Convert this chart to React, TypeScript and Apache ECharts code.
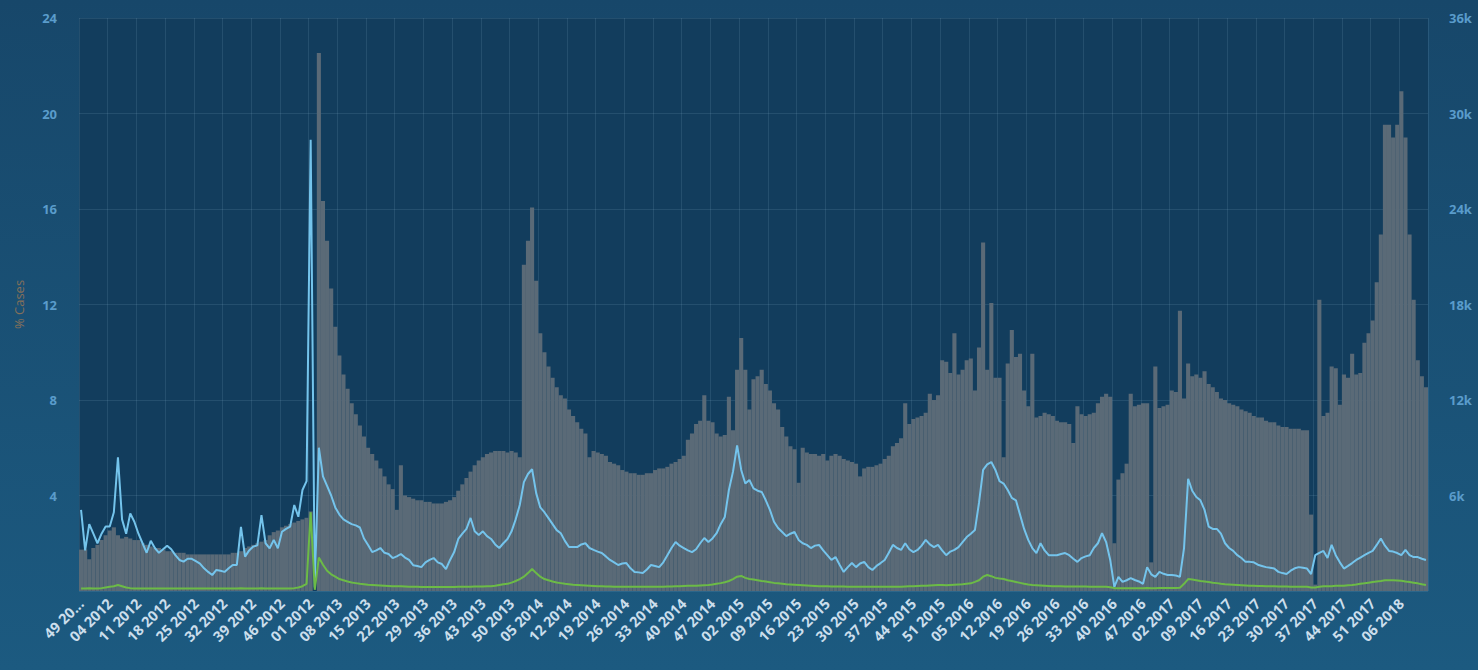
import React, { useEffect, useRef } from "react";
import * as echarts from "echarts";

// ---- week categories (ISO weeks, labelled "WW YYYY" with the year of the week's Monday) ----
const START_YEAR = 2011;
const START_WEEK = 49;
const WEEK_COUNT = 329;
const WEEKS_IN_YEAR: Record<number, number> = {
  2011: 52, 2012: 52, 2013: 52, 2014: 52, 2015: 53, 2016: 52, 2017: 52, 2018: 52,
};

function weekStartYear(year: number, week: number): number {
  const jan4 = new Date(Date.UTC(year, 0, 4));
  const dow = (jan4.getUTCDay() + 6) % 7;
  const monday = new Date(jan4.getTime() - dow * 86400000 + (week - 1) * 7 * 86400000);
  return monday.getUTCFullYear();
}

const categories: string[] = [];
{
  let y = START_YEAR;
  let w = START_WEEK;
  for (let k = 0; k < WEEK_COUNT; k++) {
    categories.push(`${String(w).padStart(2, "0")} ${weekStartYear(y, w)}`);
    w++;
    if (w > WEEKS_IN_YEAR[y]) { w = 1; y++; }
  }
}

// ---- gray bars: number of cases (thousands, right axis) ----
const casesK = [
  2.6,2.6,2.0,2.7,2.9,3.2,3.5,3.8,4.0,3.5,
  3.3,3.4,3.3,3.2,3.2,3.0,2.9,2.8,2.7,2.7,
  2.6,2.5,2.5,2.4,2.4,2.4,2.3,2.3,2.3,2.3,
  2.3,2.3,2.3,2.3,2.3,2.3,2.3,2.4,2.4,2.5,
  2.7,2.8,2.9,3.0,3.1,3.2,3.5,3.7,3.8,4.0,
  4.1,4.2,4.3,4.4,4.5,4.6,5.0,0,33.8,24.5,
  22.0,19.0,16.6,14.8,13.6,12.7,11.8,11.1,10.4,9.7,
  9.0,8.6,8.2,7.7,7.2,6.7,6.4,5.1,7.9,6.0,
  5.9,5.8,5.7,5.7,5.6,5.6,5.5,5.5,5.5,5.6,
  5.7,5.9,6.3,6.7,7.1,7.5,7.9,8.2,8.4,8.6,
  8.7,8.8,8.8,8.8,8.7,8.8,8.7,8.4,20.5,22.0,
  24.1,19.5,16.2,15.0,14.1,13.4,12.8,12.3,12.1,11.4,
  11.0,10.6,10.2,9.9,8.4,8.8,8.7,8.6,8.5,8.1,
  8.0,7.9,7.6,7.5,7.4,7.4,7.3,7.3,7.4,7.4,
  7.6,7.7,7.7,7.8,8.0,8.1,8.3,8.5,9.5,9.9,
  10.5,10.7,12.3,10.7,10.6,9.9,9.7,9.8,12.2,10.1,
  13.9,15.9,13.9,11.4,13.3,13.5,13.9,13.0,12.6,11.8,
  11.4,10.3,9.7,9.1,8.9,6.8,9.0,8.7,8.6,8.6,
  8.5,8.6,8.2,8.5,8.6,8.5,8.3,8.2,8.1,8.0,
  7.2,7.7,7.8,7.8,7.9,8.0,8.3,8.5,9.1,9.3,
  9.6,11.8,10.5,10.8,10.9,11.0,11.2,12.4,12.0,12.3,
  14.5,14.4,13.7,16.2,13.6,13.9,14.5,14.6,12.6,15.3,
  21.9,13.9,18.1,13.4,13.4,8.4,14.3,16.4,14.7,14.9,
  12.6,11.6,14.9,10.9,11.0,11.2,11.1,11.0,10.7,10.6,
  10.6,10.5,9.3,11.6,11.1,11.0,11.1,11.2,11.8,12.2,
  12.4,12.2,3.0,7.0,7.4,8.0,12.4,11.6,11.7,11.8,
  11.8,1.8,14.1,11.5,11.6,11.7,12.6,12.5,17.6,12.1,
  14.3,13.5,13.6,13.4,13.8,13.0,12.8,12.5,12.1,12.0,
  11.8,11.7,11.6,11.4,11.3,11.2,11.0,10.9,10.9,10.7,
  10.6,10.6,10.4,10.3,10.3,10.2,10.2,10.2,10.1,10.1,
  4.8,0.4,18.3,11.0,11.2,14.1,14.0,11.7,13.6,13.4,
  14.9,13.6,13.7,15.6,16.2,17.0,19.4,22.4,29.3,29.3,
  28.5,29.3,31.4,28.5,22.4,18.3,14.5,13.5,12.8,
];

// ---- light-blue line: % cases (left axis) ----
const pctBlue = [
  3.4,1.7,2.8,2.4,2.0,2.4,2.7,2.7,3.3,5.6,
  3.0,2.4,3.25,2.9,2.4,2.0,1.6,2.1,1.8,1.6,
  1.75,1.9,1.75,1.5,1.3,1.23,1.35,1.35,1.25,1.15,
  0.95,0.8,0.67,0.88,0.85,0.8,0.95,1.09,1.09,2.69,
  1.44,1.7,1.86,1.91,3.18,2.0,1.79,2.14,1.79,2.48,
  2.6,2.7,3.6,3.11,4.23,4.6,18.9,0.15,6.0,4.8,
  4.4,4.0,3.5,3.2,3.0,2.9,2.8,2.75,2.66,2.2,
  1.93,1.63,1.7,1.8,1.6,1.55,1.38,1.45,1.55,1.4,
  1.3,1.08,1.05,1.0,1.2,1.3,1.38,1.2,1.13,0.92,
  1.3,1.63,2.18,2.4,2.6,3.06,2.5,2.35,2.5,2.3,
  2.18,1.95,1.8,2.0,2.18,2.5,3.0,3.6,4.56,4.9,
  5.1,4.1,3.5,3.3,3.05,2.8,2.55,2.42,2.1,1.84,
  1.84,1.84,1.95,2.0,1.8,1.72,1.65,1.59,1.45,1.3,
  1.2,1.09,1.15,1.17,0.95,0.8,0.78,0.75,0.9,1.09,
  1.05,1.0,1.2,1.5,1.8,2.05,1.9,1.8,1.7,1.63,
  1.75,2.0,2.22,2.05,2.2,2.42,2.8,3.1,4.23,5.0,
  6.1,5.07,4.5,4.65,4.3,4.2,4.15,3.8,3.4,2.9,
  2.64,2.47,2.3,2.4,2.47,2.14,2.0,1.93,1.8,1.9,
  1.93,1.7,1.5,1.3,1.42,1.1,0.8,1.0,1.17,1.0,
  1.15,1.22,1.0,0.88,1.05,1.17,1.3,1.6,1.93,1.8,
  1.72,2.0,1.75,1.63,1.72,1.9,2.14,1.95,1.84,1.93,
  1.7,1.5,1.65,1.72,1.84,2.05,2.26,2.4,2.55,3.7,
  5.07,5.3,5.4,5.07,4.6,4.5,4.23,3.9,3.8,3.2,
  2.6,2.14,1.8,1.59,2.0,1.7,1.5,1.5,1.5,1.55,
  1.59,1.5,1.35,1.22,1.38,1.45,1.5,1.8,2.0,2.42,
  2.05,1.3,0.17,0.59,0.38,0.45,0.54,0.46,0.4,0.3,
  1.0,0.7,0.59,0.8,0.72,0.67,0.67,0.65,0.59,1.8,
  4.7,4.2,3.94,3.8,3.4,2.7,2.6,2.6,2.4,2.0,
  1.8,1.68,1.5,1.38,1.22,1.22,1.2,1.1,1.05,1.0,
  0.97,0.94,0.8,0.75,0.71,0.85,0.95,1.0,0.97,0.94,
  0.71,1.5,1.6,1.68,1.38,1.93,1.5,1.2,0.94,1.05,
  1.17,1.3,1.4,1.5,1.6,1.68,1.93,2.2,1.9,1.68,
  1.65,1.59,1.5,1.72,1.5,1.42,1.42,1.35,1.3,
];

// ---- green line: % cases (left axis) ----
const pctGreen = [
  0.10,0.10,0.12,0.10,0.10,0.12,0.15,0.18,0.20,0.25,
  0.20,0.15,0.12,0.10,0.10,0.10,0.10,0.10,0.10,0.10,
  0.10,0.10,0.10,0.10,0.10,0.10,0.10,0.10,0.10,0.10,
  0.10,0.10,0.10,0.10,0.10,0.10,0.10,0.10,0.10,0.12,
  0.10,0.10,0.10,0.10,0.12,0.10,0.10,0.10,0.10,0.10,
  0.10,0.10,0.12,0.15,0.20,0.30,3.30,0.05,1.40,1.10,
  0.85,0.70,0.60,0.50,0.45,0.40,0.36,0.33,0.30,0.28,
  0.26,0.25,0.24,0.23,0.22,0.21,0.20,0.20,0.20,0.19,
  0.18,0.18,0.18,0.17,0.17,0.17,0.17,0.17,0.17,0.17,
  0.17,0.17,0.18,0.18,0.18,0.18,0.19,0.19,0.19,0.20,
  0.20,0.22,0.25,0.28,0.30,0.35,0.42,0.50,0.60,0.75,
  0.92,0.75,0.60,0.50,0.45,0.40,0.36,0.33,0.30,0.28,
  0.26,0.25,0.24,0.23,0.22,0.21,0.20,0.20,0.19,0.19,
  0.18,0.18,0.18,0.18,0.18,0.18,0.18,0.18,0.18,0.18,
  0.18,0.18,0.18,0.19,0.19,0.20,0.20,0.21,0.22,0.22,
  0.22,0.23,0.24,0.25,0.27,0.30,0.33,0.37,0.42,0.50,
  0.60,0.63,0.55,0.50,0.48,0.45,0.42,0.40,0.37,0.34,
  0.32,0.30,0.28,0.27,0.26,0.25,0.24,0.23,0.22,0.21,
  0.20,0.20,0.20,0.19,0.19,0.19,0.19,0.18,0.18,0.18,
  0.18,0.18,0.18,0.18,0.18,0.18,0.18,0.18,0.18,0.18,
  0.18,0.19,0.20,0.20,0.21,0.22,0.22,0.23,0.24,0.25,
  0.25,0.24,0.25,0.26,0.27,0.28,0.30,0.32,0.38,0.45,
  0.60,0.67,0.62,0.55,0.52,0.50,0.45,0.42,0.38,0.34,
  0.30,0.27,0.25,0.24,0.23,0.22,0.21,0.20,0.20,0.20,
  0.19,0.19,0.19,0.19,0.19,0.19,0.18,0.18,0.18,0.18,
  0.18,0.16,0.12,0.12,0.12,0.12,0.12,0.12,0.12,0.12,
  0.13,0.12,0.12,0.13,0.13,0.13,0.13,0.13,0.14,0.30,
  0.50,0.48,0.45,0.42,0.40,0.38,0.35,0.33,0.30,0.28,
  0.27,0.26,0.25,0.24,0.23,0.22,0.22,0.21,0.21,0.20,
  0.20,0.20,0.19,0.19,0.19,0.18,0.18,0.18,0.18,0.18,
  0.15,0.15,0.18,0.20,0.20,0.20,0.22,0.22,0.22,0.24,
  0.25,0.27,0.30,0.32,0.35,0.38,0.40,0.42,0.45,0.45,
  0.45,0.44,0.43,0.40,0.38,0.35,0.32,0.28,0.25,
];

const LEFT_AXIS_NAME = "% Cases";
const LEFT_MAX = 24;
const LEFT_STEP = 4;
const RIGHT_MAX = 36;
const RIGHT_STEP = 6;

export default function App() {
  const ref = useRef<HTMLDivElement>(null);

  useEffect(() => {
    if (!ref.current) return;
    const chart = echarts.init(ref.current, undefined, { renderer: "svg" });
    const gridLine = "rgba(150,190,220,0.14)";
    chart.setOption({
      animation: false,
      backgroundColor: new echarts.graphic.LinearGradient(0, 0, 0, 1, [
        { offset: 0, color: "#17476a" },
        { offset: 1, color: "#1c5a80" },
      ]),
      grid: {
        left: 79,
        right: 50,
        top: 18,
        bottom: 79,
        show: true,
        backgroundColor: "#123d5d",
        borderWidth: 0,
      },
      xAxis: {
        type: "category",
        data: categories,
        boundaryGap: true,
        axisLine: { show: false },
        axisTick: { show: false },
        axisLabel: {
          interval: 6,
          rotate: 45,
          color: "#cbdeec",
          fontSize: 14.5,
          fontWeight: "bold",
          fontFamily: "Open Sans, sans-serif",
          margin: 10,
          formatter: (v: string, i: number) => (i === 0 ? v.slice(0, 5) + "..." : v),
        },
        splitLine: { show: true, interval: 6, lineStyle: { color: gridLine, width: 1 } },
      },
      yAxis: [
        {
          type: "value",
          position: "left",
          min: 0,
          max: LEFT_MAX,
          interval: LEFT_STEP,
          name: LEFT_AXIS_NAME,
          nameLocation: "middle",
          nameGap: 54,
          nameRotate: 90,
          nameTextStyle: { color: "#86705a", fontSize: 13, fontFamily: "Open Sans, sans-serif" },
          axisLine: { show: false },
          axisTick: { show: false },
          axisLabel: {
            color: "#5a9ccb",
            fontSize: 13,
            fontWeight: "bold",
            fontFamily: "Open Sans, sans-serif",
            margin: 22,
            showMinLabel: false,
          },
          splitLine: { show: true, lineStyle: { color: gridLine, width: 1 } },
        },
        {
          type: "value",
          position: "right",
          min: 0,
          max: RIGHT_MAX,
          interval: RIGHT_STEP,
          axisLine: { show: false },
          axisTick: { show: false },
          axisLabel: {
            color: "#5a9ccb",
            fontSize: 13,
            fontWeight: "bold",
            fontFamily: "Open Sans, sans-serif",
            margin: 21,
            showMinLabel: false,
            formatter: (v: number) => `${v}k`,
          },
          splitLine: { show: false },
        },
      ],
      series: [
        {
          name: "Cases",
          type: "bar",
          yAxisIndex: 1,
          data: casesK,
          barCategoryGap: "0%",
          itemStyle: { color: "#5a6a77" },
        },
        {
          name: "% Cases A",
          type: "line",
          yAxisIndex: 0,
          data: pctBlue,
          showSymbol: false,
          lineStyle: { color: "#74c4ec", width: 2 },
          itemStyle: { color: "#74c4ec" },
        },
        {
          name: "% Cases B",
          type: "line",
          yAxisIndex: 0,
          data: pctGreen,
          showSymbol: false,
          lineStyle: { color: "#6cbb46", width: 2 },
          itemStyle: { color: "#6cbb46" },
        },
      ],
    });
    return () => chart.dispose();
  }, []);

  return (
    <div
      ref={ref}
      style={{ position: "fixed", left: 0, top: 0, width: 1478, height: 670 }}
    />
  );
}
